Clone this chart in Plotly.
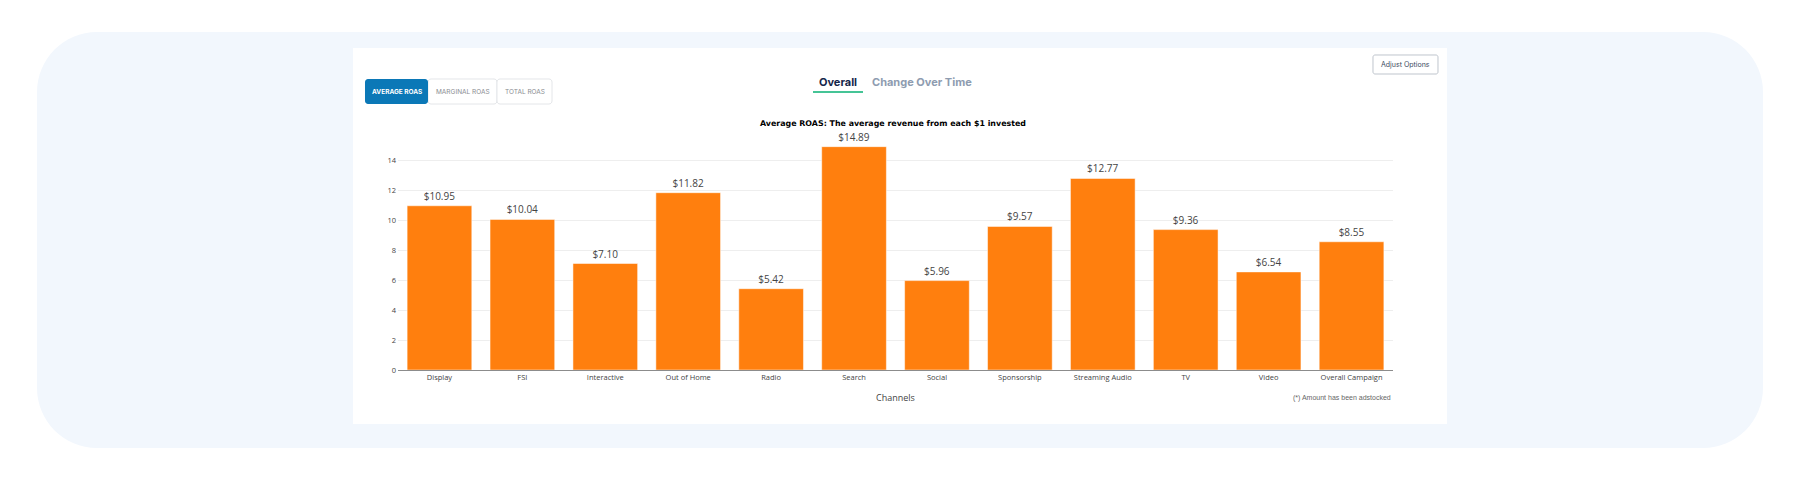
import plotly.graph_objects as go

# ---------------- data ----------------
channels = ["Display", "FSI", "Interactive", "Out of Home", "Radio", "Search",
            "Social", "Sponsorship", "Streaming Audio", "TV", "Video", "Overall Campaign"]
avg_roas = [10.95, 10.04, 7.10, 11.82, 5.42, 14.89, 5.96, 9.57, 12.77, 9.36, 6.54, 8.55]
y_ticks = [0, 2, 4, 6, 8, 10, 12, 14]
chart_title = "Average ROAS: The average revenue from each $1 invested"
metric_buttons = ["AVERAGE ROAS", "MARGINAL ROAS", "TOTAL ROAS"]
tabs = ["Overall", "Change Over Time"]
x_title = "Channels"
footnote = "(*) Amount has been adstocked"

# ---------------- geometry helpers (page pixels -> paper coords) ----------------
W, H = 1800, 480
PL, PR, PT, PB = 398, 1393, 136, 370
YMAX = 15.6


def px(x):
    return (x - PL) / (PR - PL)


def py(y):
    return (PB - y) / (PB - PT)


def rrect(x0, y0, x1, y1, r):
    k = 0.5523 * r
    if r <= 0:
        return "M{},{} L{},{} L{},{} L{},{} Z".format(px(x0), py(y0), px(x1), py(y0), px(x1), py(y1), px(x0), py(y1))
    P = lambda x, y: "{:.6f},{:.6f}".format(px(x), py(y))
    return ("M" + P(x0 + r, y0) + " L" + P(x1 - r, y0) +
            " C" + P(x1 - r + k, y0) + " " + P(x1, y0 + r - k) + " " + P(x1, y0 + r) +
            " L" + P(x1, y1 - r) +
            " C" + P(x1, y1 - r + k) + " " + P(x1 - r + k, y1) + " " + P(x1 - r, y1) +
            " L" + P(x0 + r, y1) +
            " C" + P(x0 + r - k, y1) + " " + P(x0, y1 - r + k) + " " + P(x0, y1 - r) +
            " L" + P(x0, y0 + r) +
            " C" + P(x0, y0 + r - k) + " " + P(x0 + r - k, y0) + " " + P(x0 + r, y0) + " Z")


shapes = []


def add_rr(x0, y0, x1, y1, r, fill, line=None, lw=0):
    shapes.append(dict(type="path", path=rrect(x0, y0, x1, y1, r), xref="paper", yref="paper",
                       fillcolor=fill, line=dict(color=line or fill, width=lw), layer="below"))


# outer page card and white panel
add_rr(37, 32, 1763, 448, 60, "#f2f7fd")
add_rr(353, 48, 1447, 424, 0, "#ffffff")
# metric buttons
btn_x = [365, 428, 497, 552]
add_rr(btn_x[1], 79, btn_x[2], 104, 3, "#ffffff", "#e4e6e9", 1)
add_rr(btn_x[2], 79, btn_x[3], 104, 3, "#ffffff", "#e4e6e9", 1)
add_rr(btn_x[0], 79, btn_x[1], 104, 3, "#0b78b7")
# adjust options button
add_rr(1373, 55, 1438, 74, 2, "#ffffff", "#bfc5cd", 1)
# tab underline
shapes.append(dict(type="line", xref="paper", yref="paper", x0=px(813), x1=px(863), y0=py(92), y1=py(92),
                   line=dict(color="#45c496", width=2), layer="below"))

annotations = []


def ann(text, x, y, size, color, family="Inter, Roboto, sans-serif", xanchor="center", weight=None):
    if weight:
        text = "<b>" + text + "</b>"
    annotations.append(dict(text=text, x=px(x), y=py(y), xref="paper", yref="paper", showarrow=False,
                            xanchor=xanchor, yanchor="middle",
                            font=dict(size=size, color=color, family=family)))


btn_colors = ["#ffffff", "#8a8d92", "#8a8d92"]
for i, b in enumerate(metric_buttons):
    ann(b, (btn_x[i] + btn_x[i + 1]) / 2, 91.5, 6.5, btn_colors[i], weight=(i == 0))

ann(tabs[0], 838, 82, 11, "#14264a", weight=True)
ann(tabs[1], 922, 82, 11, "#8e9cb0", weight=True)
ann("Adjust Options", 1405.5, 64.5, 7, "#3b4a5e", family="Inter, Roboto, sans-serif")
ann(chart_title, 893, 123, 7.9, "#000000", family="DejaVu Sans, Verdana, sans-serif", weight=True)
ann(x_title, 895, 397, 9, "#444444", family="Open Sans, verdana, sans-serif")
ann(footnote, 1393, 398, 7, "#666666", family="Liberation Sans, Arial, sans-serif", xanchor="right")

fig = go.Figure(go.Bar(
    x=channels, y=avg_roas,
    marker=dict(color="#ff7f0e", line=dict(color="#ffffff", width=0.5)),
    texttemplate="$%{y:.2f}", textposition="outside", cliponaxis=False,
    textfont=dict(size=10, color="#444444", family="Open Sans, verdana, sans-serif"),
    hoverinfo="skip",
))

fig.update_layout(
    width=W, height=H, autosize=False,
    margin=dict(l=PL, r=W - PR, t=PT, b=H - PB, pad=0),
    paper_bgcolor="#ffffff", plot_bgcolor="rgba(0,0,0,0)",
    bargap=0.22, showlegend=False,
    font=dict(family="Open Sans, verdana, sans-serif", color="#444444"),
    shapes=shapes, annotations=annotations,
    xaxis=dict(showline=True, linecolor="#8c8c8c", linewidth=1, showgrid=False, zeroline=False,
               ticks="", tickfont=dict(size=7.5, color="#444444"), fixedrange=True),
    yaxis=dict(range=[0, YMAX], tickvals=y_ticks, showgrid=True, gridcolor="#eeeeee", gridwidth=1,
               zeroline=False, showline=False, ticks="", ticklabelstandoff=1,
               tickfont=dict(size=7.5, color="#444444"), fixedrange=True),
)

fig.write_html("out.html", config={"displayModeBar": False},
               post_script="document.body.style.margin='0';document.body.style.overflow='hidden';")
